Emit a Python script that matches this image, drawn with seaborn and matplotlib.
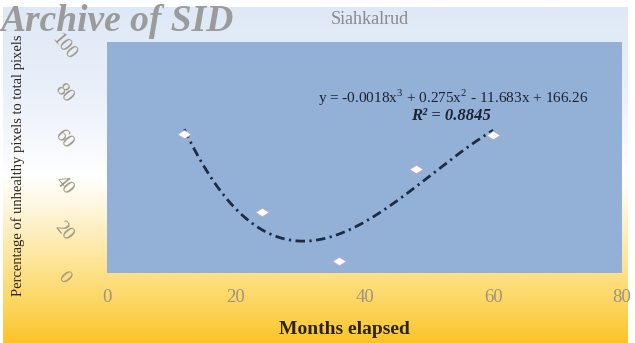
import numpy as np
import pandas as pd
import matplotlib
matplotlib.use("Agg")
import matplotlib.pyplot as plt
import matplotlib.transforms as mtransforms
from matplotlib.colors import LinearSegmentedColormap
import seaborn as sns

# Observations: months elapsed vs share of unhealthy pixels (%)
months = [12, 24, 36, 48, 60]
unhealthy_pct = [60.2, 26.4, 5.0, 45.0, 59.8]

x_ticks = [0, 20, 40, 60, 80]
y_ticks = [0, 20, 40, 60, 80, 100]

title_text = "Siahkalrud"
equation_text = "y = -0.0018x$^{3}$ + 0.275x$^{2}$ - 11.683x + 166.26"
r2_text = "R² = 0.8845"
x_label = "Months elapsed"
y_label = "Percentage of unhealthy pixels to total pixels"
watermark = "Archive of SID"

sns.set_theme(style="white")
plt.rcParams["font.family"] = ["Liberation Serif", "DejaVu Serif"]
plt.rcParams["mathtext.fontset"] = "custom"
plt.rcParams["mathtext.rm"] = "Liberation Serif"
plt.rcParams["mathtext.bf"] = "Liberation Serif:bold"

W, H = 635, 343
fig = plt.figure(figsize=(W / 100, H / 100), dpi=100)
fig.patch.set_facecolor("white")

# vertical background wash: pale blue at the top, white, then golden yellow
bg = fig.add_axes([3 / W, 0, 625 / W, 1 - 7 / H], zorder=-5)
stops = [(0.00, "#dfe8f6"), (0.25, "#eaf0fa"), (0.42, "#f7f9fd"),
         (0.50, "#ffffff"), (0.60, "#fef6dc"), (0.73, "#fde8a4"),
         (0.87, "#fdd866"), (1.00, "#fcc42a")]
cmap = LinearSegmentedColormap.from_list("wash", stops)
grad = np.linspace(0, 1, 256)[:, None]
bg.imshow(grad, aspect="auto", cmap=cmap, extent=[0, 1, 1, 0])
bg.set_axis_off()

ax = fig.add_axes([107 / W, 1 - 272.5 / H, (622 - 107) / W, (272.5 - 42) / H])
ax.set_facecolor("#93b0d6")
for s in ax.spines.values():
    s.set_visible(False)

df = pd.DataFrame({"months": months, "pct": unhealthy_pct})

# cubic trend line fitted to the observations
coef = np.polyfit(df["months"], df["pct"], 3)
xs = np.linspace(min(months), max(months), 200)
trend = pd.DataFrame({"months": xs, "pct": np.polyval(coef, xs)})
sns.lineplot(data=trend, x="months", y="pct", ax=ax, color="#1e2b44",
             linewidth=2.0, linestyle=(0, (3.4, 1.6, 0.8, 1.6)), zorder=2)

diamond = [(-1, 0), (0, 0.62), (1, 0), (0, -0.62), (-1, 0)]
sns.scatterplot(data=df, x="months", y="pct", ax=ax, marker=diamond, s=100,
                color="white", edgecolor="#b8a8c4", linewidth=0.6, zorder=3)

ax.set_xlim(0, 80)
ax.set_ylim(0, 100)
ax.set_xticks(x_ticks)
ax.set_yticks(y_ticks)
ax.set_xticklabels([str(t) for t in x_ticks], fontsize=13.5, color="#9c9480")
ax.set_yticklabels([str(t) for t in y_ticks], fontsize=13.5, color="#9c9480",
                   rotation=-50, ha="center", va="center")
ax.tick_params(axis="x", length=0, pad=12)
ax.tick_params(axis="y", length=0, pad=31)
shift = mtransforms.ScaledTranslation(0, -5 / 100, fig.dpi_scale_trans)
for lbl in ax.get_yticklabels():
    lbl.set_transform(lbl.get_transform() + shift)
ax.set_xlabel("")
ax.set_ylabel("")

fig.text(344 / W, 1 - 329 / H, x_label, ha="center", va="center",
         fontsize=14, fontweight="bold", color="#2a2418")
fig.text(18 / W, 1 - 165 / H, y_label, ha="center", va="center",
         rotation=90, fontsize=10.5, color="#2a2418")
fig.text(370 / W, 1 - 20 / H, title_text, ha="center", va="center",
         fontsize=13, color="#8a8a8a")
fig.text(453 / W, 1 - 98 / H, equation_text, ha="center", va="center",
         fontsize=11, color="#1c2333")
fig.text(451 / W, 1 - 115.5 / H, r2_text, ha="center", va="center",
         fontsize=12, fontweight="bold", fontstyle="italic", color="#1c2333")
fig.text(1 / W, 1 - 31 / H, watermark, ha="left", va="baseline",
         fontsize=27, fontweight="bold", fontstyle="italic", color="#9b9b9b")

fig.savefig("out.png", dpi=100)
